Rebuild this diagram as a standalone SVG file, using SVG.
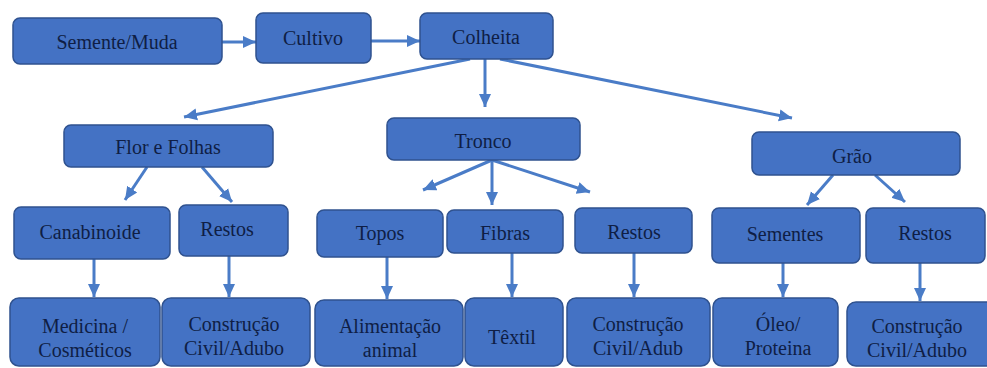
<svg xmlns="http://www.w3.org/2000/svg" width="987" height="368" viewBox="0 0 987 368">
<style>
.box{fill:#4472C4;stroke:#2F528F;stroke-width:1.5}
.t{font-size:20px;fill:#0f1e45;text-anchor:middle;dominant-baseline:central}
.c{stroke:#4A7CC7;stroke-width:3;fill:none;marker-end:url(#ah)}
</style>
<defs>
<marker id="ah" markerUnits="userSpaceOnUse" markerWidth="14" markerHeight="14" viewBox="0 0 14 14" refX="13" refY="7" orient="auto">
<path d="M0,1 L13,7 L0,13 Z" fill="#4A7CC7"/>
</marker>
</defs>
<rect width="987" height="368" fill="#ffffff"/>
<g id="connectors">
<line class="c" x1="222" y1="42" x2="256" y2="42"/>
<line class="c" x1="371" y1="41" x2="420" y2="41"/>
<line class="c" x1="470" y1="59" x2="184" y2="117"/>
<line class="c" x1="485" y1="59" x2="485" y2="107"/>
<line class="c" x1="500" y1="59" x2="792" y2="118"/>
<line class="c" x1="147" y1="167" x2="125" y2="200"/>
<line class="c" x1="202" y1="167" x2="232" y2="202"/>
<line class="c" x1="492" y1="160" x2="423" y2="190"/>
<line class="c" x1="492" y1="160" x2="492" y2="205"/>
<line class="c" x1="492" y1="160" x2="590" y2="192"/>
<line class="c" x1="833" y1="175" x2="807" y2="205"/>
<line class="c" x1="875" y1="175" x2="905" y2="202"/>
<line class="c" x1="94" y1="259" x2="94" y2="297"/>
<line class="c" x1="229" y1="256" x2="229" y2="297"/>
<line class="c" x1="387" y1="257" x2="387" y2="299"/>
<line class="c" x1="512" y1="253" x2="512" y2="297"/>
<line class="c" x1="634" y1="253" x2="634" y2="297"/>
<line class="c" x1="783" y1="263" x2="783" y2="297"/>
<line class="c" x1="920" y1="263" x2="920" y2="301"/>
</g>
<g font-family="Liberation Serif, Times New Roman, DejaVu Serif, serif">
<g id="semente"><rect class="box" x="13" y="18" width="209" height="46" rx="7"/><text class="t" x="117" y="42">Semente/Muda</text></g>
<g id="cultivo"><rect class="box" x="256" y="13" width="115" height="50" rx="7"/><text class="t" x="313" y="38">Cultivo</text></g>
<g id="colheita"><rect class="box" x="420" y="13" width="133" height="46" rx="7"/><text class="t" x="486" y="37">Colheita</text></g>
<g id="flor"><rect class="box" x="64" y="125" width="209" height="42" rx="7"/><text class="t" x="168" y="147">Flor e Folhas</text></g>
<g id="tronco"><rect class="box" x="387" y="118" width="193" height="42" rx="7"/><text class="t" x="483" y="141">Tronco</text></g>
<g id="grao"><rect class="box" x="752" y="132" width="208" height="43" rx="7"/><text class="t" x="852" y="156">Grão</text></g>
<g id="canabinoide"><rect class="box" x="14" y="207" width="156" height="52" rx="7"/><text class="t" x="90" y="232">Canabinoide</text></g>
<g id="restos1"><rect class="box" x="179" y="205" width="109" height="51" rx="7"/><text class="t" x="227" y="229">Restos</text></g>
<g id="topos"><rect class="box" x="317" y="210" width="126" height="47" rx="7"/><text class="t" x="380" y="233">Topos</text></g>
<g id="fibras"><rect class="box" x="447" y="210" width="116" height="43" rx="7"/><text class="t" x="505" y="233">Fibras</text></g>
<g id="restos2"><rect class="box" x="575" y="208" width="117" height="45" rx="7"/><text class="t" x="634" y="232">Restos</text></g>
<g id="sementes"><rect class="box" x="712" y="208" width="148" height="55" rx="7"/><text class="t" x="785" y="234">Sementes</text></g>
<g id="restos3"><rect class="box" x="866" y="208" width="119" height="55" rx="7"/><text class="t" x="925" y="233">Restos</text></g>
<g id="medicina"><rect class="box" x="10" y="298" width="150" height="68" rx="9"/><text class="t" x="85" y="326">Medicina /</text><text class="t" x="85" y="350">Cosméticos</text></g>
<g id="cc1"><rect class="box" x="162" y="298" width="148" height="68" rx="9"/><text class="t" x="234" y="324">Construção</text><text class="t" x="234" y="348">Civil/Adubo</text></g>
<g id="alimentacao"><rect class="box" x="315" y="300" width="148" height="66" rx="9"/><text class="t" x="390" y="326">Alimentação</text><text class="t" x="390" y="350">animal</text></g>
<g id="textil"><rect class="box" x="465" y="298" width="98" height="68" rx="9"/><text class="t" x="512" y="337">Têxtil</text></g>
<g id="cc2"><rect class="box" x="567" y="298" width="143" height="68" rx="9"/><text class="t" x="638" y="324">Construção</text><text class="t" x="638" y="348">Civil/Adub</text></g>
<g id="oleo"><rect class="box" x="713" y="298" width="125" height="68" rx="9"/><text class="t" x="778" y="324">Óleo/</text><text class="t" x="778" y="348">Proteina</text></g>
<g id="cc3"><rect class="box" x="847" y="302" width="150" height="64" rx="9"/><text class="t" x="917" y="326">Construção</text><text class="t" x="917" y="350">Civil/Adubo</text></g>
</g>
</svg>
